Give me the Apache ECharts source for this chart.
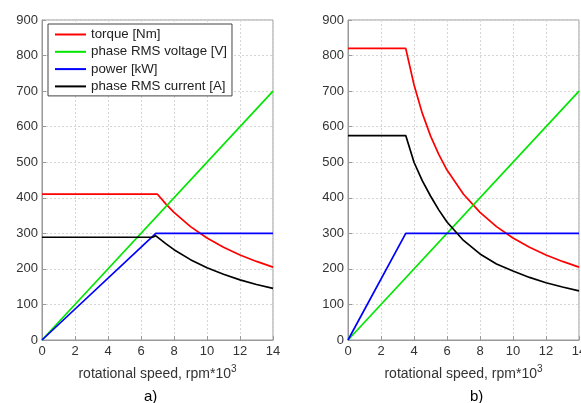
<!DOCTYPE html>
<html>
<head>
<meta charset="utf-8">
<script src="https://cdn.jsdelivr.net/npm/echarts@6/dist/echarts.min.js"></script>
<style>
  html, body { margin: 0; padding: 0; background: #fff; }
  #chart { width: 581px; height: 403px; }
</style>
</head>
<body>
<div id="chart"></div>
<script>
// legend / series names
const seriesNames = ['torque [Nm]', 'phase RMS voltage [V]', 'power [kW]', 'phase RMS current [A]'];
const seriesColors = ['#ff0000', '#00e600', '#0000ff', '#000000'];

// a) speed in rpm*10^3 and values
const torqueSpeedA = [0, 7, 7.5, 8, 9, 10, 11, 12, 13, 14];
const torqueA = [410, 410, 383, 359, 319, 287, 261, 239, 221, 205];
const voltageSpeedA = [0, 14];
const voltageA = [0, 700];
const powerSpeedA = [0, 6.9, 14];
const powerA = [0, 300, 300];
const currentSpeedA = [0, 6.7, 6.9, 7.5, 8, 9, 10, 11, 12, 13, 14];
const currentA = [289, 289, 293, 271, 254, 226, 203, 185, 169, 156, 145];

// b)
const torqueSpeedB = [0, 3.5, 4, 4.5, 5, 5.5, 6, 7, 8, 9, 10, 11, 12, 13, 14];
const torqueB = [820, 820, 718, 638, 574, 522, 478, 410, 359, 319, 287, 261, 239, 221, 205];
const voltageSpeedB = [0, 14];
const voltageB = [0, 700];
const powerSpeedB = [0, 3.5, 14];
const powerB = [0, 300, 300];
const currentSpeedB = [0, 3.5, 4, 4.5, 5, 5.5, 6, 7, 8, 9, 10, 11, 12, 13, 14];
const currentB = [575, 575, 500, 448, 405, 366, 332, 280, 242, 214, 194, 176, 161, 149, 138];

const xTicks = [0, 2, 4, 6, 8, 10, 12, 14];
const yTicks = [0, 100, 200, 300, 400, 500, 600, 700, 800, 900];

const pairs = (xs, ys) => xs.map((x, i) => [x, ys[i]]);

const chart = echarts.init(document.getElementById('chart'));

const labelFont = { fontFamily: 'Liberation Sans', fontSize: 13, color: '#333' };

function makeX(gridIndex) {
  return {
    type: 'value', gridIndex,
    min: xTicks[0], max: xTicks[xTicks.length - 1], interval: 2,
    axisLine: { lineStyle: { color: '#999' } },
    axisTick: { inside: true, length: 4, lineStyle: { color: '#999' } },
    axisLabel: Object.assign({ margin: 5 }, labelFont),
    splitLine: { show: true, lineStyle: { color: '#d6d6d6', type: [2, 2] } },
    name: '{a|rotational speed, rpm*10}{s|3}',
    nameLocation: 'middle',
    nameGap: 24,
    nameTextStyle: {
      rich: {
        a: { fontFamily: 'Liberation Sans', fontSize: 14, color: '#333' },
        s: { fontFamily: 'Liberation Sans', fontSize: 10, color: '#333', padding: [0, 0, 10, 0] }
      }
    }
  };
}

function makeY(gridIndex) {
  return {
    type: 'value', gridIndex,
    min: yTicks[0], max: yTicks[yTicks.length - 1], interval: 100,
    axisLine: { show: true, lineStyle: { color: '#999' } },
    axisTick: { show: true, inside: true, length: 4, lineStyle: { color: '#999' } },
    axisLabel: Object.assign({ margin: 4 }, labelFont),
    splitLine: { show: true, lineStyle: { color: '#d6d6d6', type: [2, 2] } }
  };
}

function line(name, data, idx) {
  const c = seriesColors[seriesNames.indexOf(name)];
  return {
    name, type: 'line', data,
    xAxisIndex: idx, yAxisIndex: idx,
    symbol: 'none', showSymbol: false, animation: false,
    lineStyle: { width: 1.7, color: c },
    itemStyle: { color: c }
  };
}

chart.setOption({
  backgroundColor: '#fff',
  animation: false,
  title: [
    { text: 'a)', left: 139, top: 384, textStyle: { fontFamily: 'Liberation Sans', fontSize: 15, fontWeight: 'normal', color: '#000' } },
    { text: 'b)', left: 465, top: 384, textStyle: { fontFamily: 'Liberation Sans', fontSize: 15, fontWeight: 'normal', color: '#000' } }
  ],
  grid: [
    { left: 42, top: 20, width: 231, height: 320, show: true, borderColor: '#999', borderWidth: 1, outerBoundsMode: 'none' },
    { left: 348, top: 20, width: 231, height: 320, show: true, borderColor: '#999', borderWidth: 1, outerBoundsMode: 'none' }
  ],
  legend: {
    data: seriesNames,
    orient: 'vertical',
    left: 48, top: 24,
    backgroundColor: '#fff',
    borderColor: '#444', borderWidth: 1, borderRadius: 0,
    padding: [4, 5, 3, 6],
    itemGap: 4.3, itemWidth: 31, itemHeight: 14,
    itemStyle: { opacity: 0 },
    textStyle: { fontFamily: 'Liberation Sans', fontSize: 13.3, color: '#222' }
  },
  xAxis: [makeX(0), makeX(1)],
  yAxis: [makeY(0), makeY(1)],
  series: [
    line(seriesNames[0], pairs(torqueSpeedA, torqueA), 0),
    line(seriesNames[1], pairs(voltageSpeedA, voltageA), 0),
    line(seriesNames[2], pairs(powerSpeedA, powerA), 0),
    line(seriesNames[3], pairs(currentSpeedA, currentA), 0),
    line(seriesNames[0], pairs(torqueSpeedB, torqueB), 1),
    line(seriesNames[1], pairs(voltageSpeedB, voltageB), 1),
    line(seriesNames[2], pairs(powerSpeedB, powerB), 1),
    line(seriesNames[3], pairs(currentSpeedB, currentB), 1)
  ]
});
</script>
</body>
</html>
